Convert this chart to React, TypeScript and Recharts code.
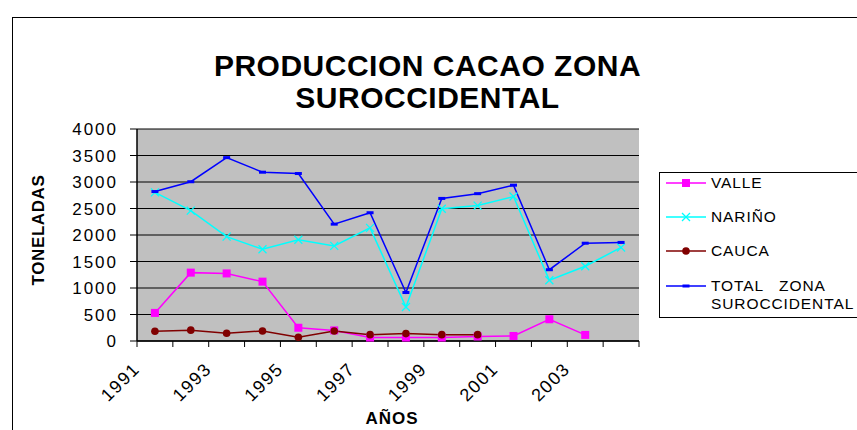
import React from 'react';
import { LineChart, Line, XAxis, YAxis, CartesianGrid } from 'recharts';

const years = ['1991', '1992', '1993', '1994', '1995', '1996', '1997', '1998', '1999', '2000', '2001', '2002', '2003', '2004'];
const valle = [530, 1290, 1275, 1120, 250, 200, 65, 65, 65, 85, 95, 410, 115, null];
const narino = [2805, 2460, 1970, 1730, 1910, 1795, 2135, 640, 2495, 2555, 2725, 1145, 1410, 1765];
const cauca = [185, 205, 145, 190, 70, 190, 120, 140, 120, 120, null, null, null, null];
const total = [2820, 3005, 3460, 3185, 3160, 2205, 2420, 915, 2690, 2780, 2940, 1345, 1845, 1860];
const yTicks = [0, 500, 1000, 1500, 2000, 2500, 3000, 3500, 4000];

const series = [
  { key: 'valle', name: 'VALLE', lines: ['VALLE'], color: '#FF00FF', shape: 'square' },
  { key: 'narino', name: 'NARIÑO', lines: ['NARIÑO'], color: '#00FFFF', shape: 'cross' },
  { key: 'cauca', name: 'CAUCA', lines: ['CAUCA'], color: '#800000', shape: 'circle' },
  { key: 'total', name: 'TOTAL ZONA SUROCCIDENTAL', lines: ['TOTAL   ZONA', 'SUROCCIDENTAL'], color: '#0000FF', shape: 'dash' },
];

const data = years.map((year, i) => ({
  year,
  valle: valle[i],
  narino: narino[i],
  cauca: cauca[i],
  total: total[i],
}));

const FONT = '"Liberation Sans", Arial, sans-serif';

function Marker({ shape, color, cx, cy }: { shape: string; color: string; cx: number; cy: number }) {
  if (shape === 'square') return <rect x={cx - 4} y={cy - 4} width={8} height={8} fill={color} />;
  if (shape === 'circle') return <circle cx={cx} cy={cy} r={3.8} fill={color} />;
  if (shape === 'cross')
    return (
      <g stroke={color} strokeWidth={1.3}>
        <line x1={cx - 4} y1={cy - 4} x2={cx + 4} y2={cy + 4} />
        <line x1={cx - 4} y1={cy + 4} x2={cx + 4} y2={cy - 4} />
      </g>
    );
  return <rect x={cx - 3.5} y={cy - 1.5} width={7} height={3} fill={color} />;
}

const dotFor = (shape: string, color: string) => (props: any) => {
  const { cx, cy, index, value } = props;
  if (cx == null || cy == null || value == null) return <g key={`d-${index}`} />;
  return (
    <g key={`d-${index}`}>
      <Marker shape={shape} color={color} cx={cx} cy={cy} />
    </g>
  );
};

const XTick = (props: any) => {
  const { x, y, payload, index } = props;
  const half = payload && typeof payload.offset === 'number' ? payload.offset : 18;
  const last = index === years.length - 1;
  const ax = x - 14;
  const ay = y + 29;
  return (
    <g>
      <line x1={x - half} y1={y} x2={x - half} y2={y + 6} stroke="#000" />
      {last && <line x1={x + half} y1={y} x2={x + half} y2={y + 6} stroke="#000" />}
      {index % 2 === 0 && (
        <text
          x={ax}
          y={ay}
          textAnchor="end"
          transform={`rotate(-45, ${ax}, ${ay})`}
          fontSize={18}
          letterSpacing={1.5}
          fontFamily={FONT}
          fill="#000"
        >
          {payload.value}
        </text>
      )}
    </g>
  );
};

const App: React.FC = () => {
  return (
    <div style={{ position: 'absolute', left: 0, top: 0, width: 857, height: 430, overflow: 'hidden', background: '#fff' }}>
      <div style={{ position: 'absolute', left: 12, top: 17, width: 900, height: 500, border: '1px solid #000' }} />

      <div
        style={{
          position: 'absolute',
          left: 0,
          width: 855,
          top: 50,
          textAlign: 'center',
          fontFamily: FONT,
          fontWeight: 'bold',
          fontSize: 30,
          letterSpacing: 0.5,
          lineHeight: '32px',
          color: '#000',
        }}
      >
        PRODUCCION CACAO ZONA
        <br />
        SUROCCIDENTAL
      </div>

      <div style={{ position: 'absolute', left: 0, top: 0 }}>
        <LineChart width={857} height={430} data={data} margin={{ top: 129, right: 218, left: 77, bottom: 29 }}>
          <CartesianGrid vertical={false} stroke="#000" fill="#C0C0C0" fillOpacity={1} />
          <XAxis
            dataKey="year"
            scale="band"
            interval={0}
            height={60}
            tickLine={false}
            tickSize={0}
            tickMargin={0}
            axisLine={{ stroke: '#000', strokeWidth: 1.5 }}
            tick={<XTick />}
          />
          <XAxis
            xAxisId="top"
            dataKey="year"
            scale="band"
            orientation="top"
            height={0}
            tick={false}
            tickLine={false}
            axisLine={{ stroke: '#808080', strokeWidth: 2 }}
          />
          <YAxis
            type="number"
            domain={[0, 4000]}
            ticks={yTicks}
            interval={0}
            width={60}
            tickSize={7}
            tickMargin={12}
            axisLine={{ stroke: '#000', strokeWidth: 1.5 }}
            tickLine={{ stroke: '#000' }}
            tick={{ fontSize: 17, fill: '#000', fontFamily: FONT, letterSpacing: 2 }}
          />
          <YAxis
            yAxisId="r"
            type="number"
            orientation="right"
            domain={[0, 4000]}
            width={0}
            tick={false}
            tickLine={false}
            axisLine={{ stroke: '#808080', strokeWidth: 2 }}
          />
          {series.map((s) => (
            <Line
              key={s.key}
              type="linear"
              dataKey={s.key}
              name={s.name}
              stroke={s.color}
              strokeWidth={1.5}
              dot={dotFor(s.shape, s.color)}
              activeDot={false}
              isAnimationActive={false}
            />
          ))}
        </LineChart>
      </div>

      <div
        style={{
          position: 'absolute',
          left: 23,
          top: 230,
          transform: 'translate(-50%, -50%) rotate(-90deg)',
          fontFamily: FONT,
          fontWeight: 'bold',
          fontSize: 17,
          letterSpacing: 0.6,
          whiteSpace: 'nowrap',
          color: '#000',
          transformOrigin: 'center',
          marginLeft: 16,
        }}
      >
        TONELADAS
      </div>

      <div
        style={{
          position: 'absolute',
          left: 392,
          top: 409,
          transform: 'translateX(-50%)',
          fontFamily: FONT,
          fontWeight: 'bold',
          fontSize: 17,
          letterSpacing: 1,
          lineHeight: '20px',
          color: '#000',
        }}
      >
        AÑOS
      </div>

      <div
        style={{
          position: 'absolute',
          left: 659,
          top: 172,
          width: 220,
          height: 144,
          border: '1px solid #000',
          background: '#fff',
          fontFamily: FONT,
          fontSize: 15.5,
          letterSpacing: 0.9,
          color: '#000',
        }}
      >
        {series.map((s, i) => (
          <div key={s.key} style={{ position: 'absolute', left: 6, top: 1 + i * 34.2, display: 'flex', alignItems: 'flex-start' }}>
            <svg width={40} height={18} style={{ display: 'block' }}>
              <line x1={0} y1={9} x2={40} y2={9} stroke={s.color} strokeWidth={1.5} />
              <Marker shape={s.shape} color={s.color} cx={20} cy={9} />
            </svg>
            <div style={{ marginLeft: 5, lineHeight: '18px', whiteSpace: 'pre' }}>
              {s.lines.map((l) => (
                <div key={l}>{l}</div>
              ))}
            </div>
          </div>
        ))}
      </div>
    </div>
  );
};

export default App;
